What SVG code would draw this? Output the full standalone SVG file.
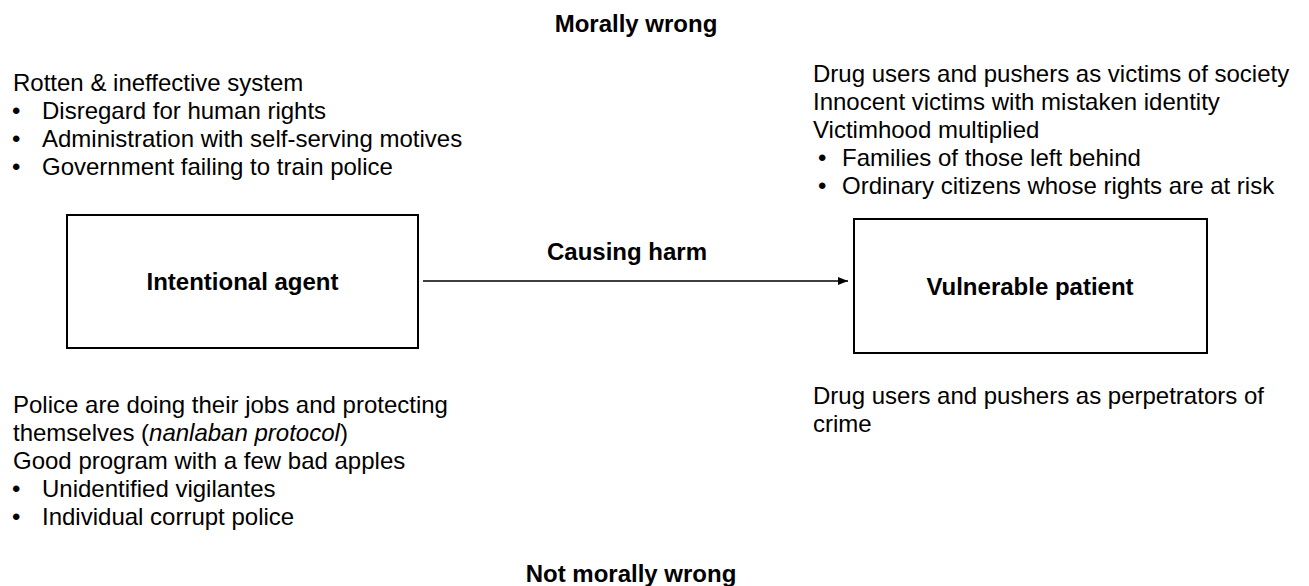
<svg xmlns="http://www.w3.org/2000/svg" width="1309" height="586" viewBox="0 0 1309 586">
<style>
text{font-family:"Liberation Sans",Arial,sans-serif;font-size:24px;fill:#000}
.b{font-weight:bold}
.m{text-anchor:middle}
.box{fill:#fff;stroke:#000;stroke-width:2}
.con{stroke:#000;stroke-width:1.3;fill:none}
</style>
<defs>
<marker id="ah" viewBox="0 0 10 8" refX="10" refY="4" markerWidth="10" markerHeight="8" markerUnits="userSpaceOnUse" orient="auto">
<path d="M0,0 L10,4 L0,8 z" fill="#000"/>
</marker>
</defs>
<rect width="1309" height="586" fill="#fff"/>
<g id="title-top"><text class="b m" x="636" y="32">Morally wrong</text></g>
<g id="title-bottom"><text class="b m" x="631" y="582">Not morally wrong</text></g>
<g id="agent-wrong">
<text x="13" y="91">Rotten &amp; ineffective system</text>
<text x="12" y="119">•</text><text x="42" y="119">Disregard for human rights</text>
<text x="12" y="147">•</text><text x="42" y="147">Administration with self-serving motives</text>
<text x="12" y="175">•</text><text x="42" y="175">Government failing to train police</text>
</g>
<g id="patient-wrong">
<text x="813" y="82">Drug users and pushers as victims of society</text>
<text x="813" y="110">Innocent victims with mistaken identity</text>
<text x="813" y="138">Victimhood multiplied</text>
<text x="818" y="166">•</text><text x="842" y="166">Families of those left behind</text>
<text x="818" y="194">•</text><text x="842" y="194">Ordinary citizens whose rights are at risk</text>
</g>
<g id="agent-notwrong">
<text x="13" y="413">Police are doing their jobs and protecting</text>
<text x="13" y="441">themselves (<tspan font-style="italic">nanlaban protocol</tspan>)</text>
<text x="13" y="469">Good program with a few bad apples</text>
<text x="12" y="497">•</text><text x="42" y="497">Unidentified vigilantes</text>
<text x="12" y="525">•</text><text x="42" y="525">Individual corrupt police</text>
</g>
<g id="patient-notwrong">
<text x="813" y="404">Drug users and pushers as perpetrators of</text>
<text x="813" y="432">crime</text>
</g>
<g id="intentional-agent">
<rect class="box" x="67" y="215" width="351" height="133"/>
<text class="b m" x="242.5" y="290">Intentional agent</text>
</g>
<g id="vulnerable-patient">
<rect class="box" x="854" y="219" width="353" height="134"/>
<text class="b m" x="1030" y="295">Vulnerable patient</text>
</g>
<g id="connectors">
<line class="con" x1="423" y1="281" x2="848" y2="281" marker-end="url(#ah)"/>
<text class="b m" x="627" y="260">Causing harm</text>
</g>
</svg>
